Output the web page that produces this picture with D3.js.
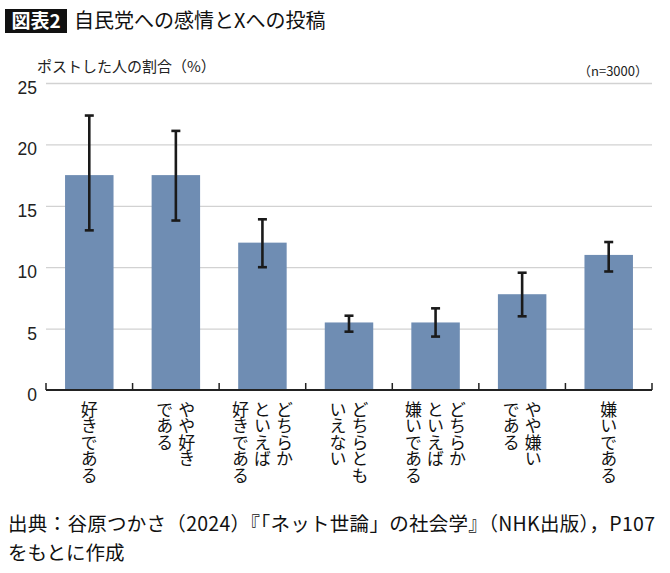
<!DOCTYPE html>
<meta charset="utf-8">
<style>
  body { margin: 0; background: #fff; }
  svg { display: block; }
  .jp { font-family: "Noto Sans CJK JP", "Noto Sans", sans-serif; }
  .num { font-family: "Liberation Sans", Arial, sans-serif; }
  .vert { writing-mode: vertical-rl; }
</style>
<body>
<div id="chart"></div>
<script src="https://d3js.org/d3.v7.min.js"></script>
<script>
  // labels are split into vertical columns, first column is the rightmost
  const categories = [
    ["好きである"],
    ["やや好き", "である"],
    ["どちらか", "といえば", "好きである"],
    ["どちらとも", "いえない"],
    ["どちらか", "といえば", "嫌いである"],
    ["やや嫌い", "である"],
    ["嫌いである"]
  ];
  const values = [17.5, 17.5, 12.0, 5.5, 5.5, 7.8, 11.0];
  const errLow = [13.0, 13.8, 10.0, 4.75, 4.35, 6.0, 9.65];
  const errHigh = [22.35, 21.1, 13.9, 6.05, 6.65, 9.55, 12.05];
  const yTicks = [0, 5, 10, 15, 20, 25];

  const width = 670, height = 573;
  const svg = d3.select("#chart").append("svg")
    .attr("width", width)
    .attr("height", height);

  const x = d3.scaleBand()
    .domain(d3.range(categories.length))
    .range([46, 652])
    .paddingInner(0.44)
    .paddingOuter(0.22);

  const y = d3.scaleLinear()
    .domain([0, 25])
    .range([390, 83]);

  // title
  svg.append("rect")
    .attr("x", 5).attr("y", 9)
    .attr("width", 62).attr("height", 24)
    .attr("fill", "#111");
  svg.append("text")
    .attr("class", "jp")
    .attr("x", 36).attr("y", 28)
    .attr("text-anchor", "middle")
    .attr("fill", "#fff")
    .attr("font-size", 19)
    .attr("font-weight", "bold")
    .text("図表2");
  svg.append("text")
    .attr("class", "jp")
    .attr("x", 74).attr("y", 28)
    .attr("fill", "#111")
    .attr("font-size", 20)
    .attr("font-weight", 400)
    .text("自民党への感情とXへの投稿");

  svg.append("text")
    .attr("class", "jp")
    .attr("x", 37).attr("y", 72)
    .attr("fill", "#222")
    .attr("font-size", 15)
    .text("ポストした人の割合（%）");
  svg.append("text")
    .attr("class", "jp")
    .attr("x", 648).attr("y", 76)
    .attr("text-anchor", "end")
    .attr("fill", "#222")
    .attr("font-size", 13)
    .text("（n=3000）");

  // gridlines + y labels
  const yAxis = svg.append("g")
    .attr("transform", "translate(46,0)")
    .call(d3.axisLeft(y).tickValues(yTicks).tickSize(-(652 - 46)).tickPadding(9));
  yAxis.select(".domain").remove();
  yAxis.selectAll(".tick line")
    .attr("stroke", (d) => d === 0 ? "none" : "#d2d2d2")
    .attr("stroke-width", 1.3);
  yAxis.selectAll(".tick text")
    .attr("class", "num")
    .attr("font-size", 17.5)
    .attr("fill", "#222")
    .attr("dy", "0.6em");

  // bars
  svg.append("g").selectAll("rect")
    .data(values)
    .join("rect")
    .attr("x", (d, i) => x(i))
    .attr("y", (d) => y(d))
    .attr("width", x.bandwidth())
    .attr("height", (d) => y(0) - y(d))
    .attr("fill", "#6f8db3");

  // error bars
  const err = svg.append("g")
    .attr("stroke", "#1a1a1a")
    .attr("stroke-width", 2.6);
  const cap = 4.5;
  values.forEach((v, i) => {
    const cx = x(i) + x.bandwidth() / 2;
    err.append("line")
      .attr("x1", cx).attr("x2", cx)
      .attr("y1", y(errLow[i])).attr("y2", y(errHigh[i]));
    err.append("line")
      .attr("x1", cx - cap).attr("x2", cx + cap)
      .attr("y1", y(errHigh[i])).attr("y2", y(errHigh[i]));
    err.append("line")
      .attr("x1", cx - cap).attr("x2", cx + cap)
      .attr("y1", y(errLow[i])).attr("y2", y(errLow[i]));
  });

  // x axis with inward ticks at band edges
  const xAxis = svg.append("g").attr("stroke", "#222");
  xAxis.append("line")
    .attr("x1", 46).attr("x2", 652)
    .attr("y1", y(0)).attr("y2", y(0))
    .attr("stroke-width", 2);
  d3.range(categories.length + 1).forEach((i) => {
    const tx = 46 + i * x.step();
    xAxis.append("line")
      .attr("x1", tx).attr("x2", tx)
      .attr("y1", y(0)).attr("y2", y(0) - 7)
      .attr("stroke-width", 1.5);
  });

  // vertical category labels, one text per column
  const colGap = 22, labelTop = 401;
  categories.forEach((cols, i) => {
    const cx = x(i) + x.bandwidth() / 2;
    const n = cols.length;
    cols.forEach((col, k) => {
      svg.append("text")
        .attr("class", "jp vert")
        .attr("x", cx + ((n - 1) / 2 - k) * colGap)
        .attr("y", labelTop)
        .attr("font-size", 17)
        .attr("letter-spacing", -0.5)
        .attr("fill", "#111")
        .text(col);
    });
  });

  // source note
  svg.append("text")
    .attr("class", "jp")
    .attr("x", 8).attr("y", 531)
    .attr("font-size", 19.5)
    .attr("fill", "#111")
    .attr("textLength", 647)
    .attr("lengthAdjust", "spacing")
    .text("出典：谷原つかさ（2024）『「ネット世論」の社会学』（NHK出版），P107");
  svg.append("text")
    .attr("class", "jp")
    .attr("x", 8).attr("y", 560)
    .attr("font-size", 19.5)
    .attr("fill", "#111")
    .text("をもとに作成");
</script>
